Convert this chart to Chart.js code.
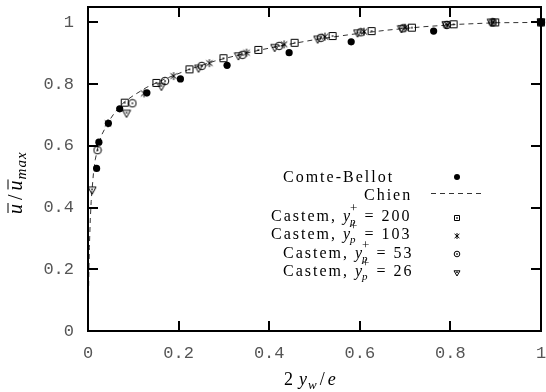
<!DOCTYPE html>
<html><head><meta charset="utf-8">
<script src="https://cdn.jsdelivr.net/npm/chart.js@4"></script>
<style>html,body{margin:0;padding:0;background:#fff}canvas{display:block}</style>
</head><body>
<canvas id="c" width="546" height="392"></canvas>
<script>
// ---- data ----
const xTicks = [0, 0.2, 0.4, 0.6, 0.8, 1];
const xTickLabels = ['0', '0.2', '0.4', '0.6', '0.8', '1'];
const yTicks = [0, 0.2, 0.4, 0.6, 0.8, 1];
const yTickLabels = ['0', '0.2', '0.4', '0.6', '0.8', '1'];

const comteX = [0.019, 0.024, 0.045, 0.070, 0.130, 0.204, 0.307, 0.444, 0.581, 0.763, 1.0];
const comteY = [0.527, 0.612, 0.673, 0.720, 0.772, 0.817, 0.861, 0.902, 0.937, 0.972, 1.0];

const chienX = [0, 0.0005, 0.001, 0.002, 0.003, 0.005, 0.007, 0.009, 0.012, 0.016, 0.021, 0.03, 0.045, 0.06, 0.08, 0.1, 0.13, 0.17, 0.22, 0.28, 0.35, 0.42, 0.5, 0.58, 0.66, 0.74, 0.82, 0.9, 1.0];
const chienY = [0, 0.06, 0.11, 0.20, 0.27, 0.36, 0.42, 0.46, 0.51, 0.555, 0.59, 0.635, 0.678, 0.71, 0.742, 0.763, 0.79, 0.817, 0.846, 0.875, 0.901, 0.923, 0.944, 0.961, 0.975, 0.986, 0.994, 0.999, 1.0];

const c200X = [0.081, 0.151, 0.224, 0.299, 0.376, 0.456, 0.540, 0.626, 0.715, 0.807, 0.899, 1.0];
const c200Y = [0.740, 0.804, 0.848, 0.884, 0.911, 0.934, 0.956, 0.972, 0.983, 0.994, 1.0, 1.0];

const c103X = [0.044, 0.124, 0.189, 0.268, 0.350, 0.433, 0.523, 0.609, 0.700, 0.794, 0.895, 1.0];
const c103Y = [0.673, 0.770, 0.826, 0.868, 0.902, 0.929, 0.954, 0.970, 0.983, 0.992, 1.0, 1.0];

const c53X = [0.021, 0.098, 0.170, 0.251, 0.341, 0.422, 0.514, 0.602, 0.696, 0.792, 0.893, 1.0];
const c53Y = [0.586, 0.738, 0.810, 0.859, 0.895, 0.924, 0.950, 0.968, 0.981, 0.992, 1.0, 1.0];

const c26X = [0.009, 0.085, 0.162, 0.244, 0.332, 0.412, 0.507, 0.595, 0.692, 0.790, 0.890, 1.0];
const c26Y = [0.456, 0.705, 0.792, 0.851, 0.891, 0.918, 0.945, 0.965, 0.979, 0.992, 1.0, 1.0];

const seriesNames = ['Comte-Bellot', 'Chien', 'Castem 200', 'Castem 103', 'Castem 53', 'Castem 26'];
const ypValues = ['200', '103', '53', '26'];

// ---- helpers ----
const zip = (xs, ys) => xs.map((x, i) => ({x: x, y: ys[i]}));

function mkSym(type, s) {
  const c = document.createElement('canvas');
  c.width = c.height = s;
  const g = c.getContext('2d');
  g.strokeStyle = '#000'; g.fillStyle = '#000'; g.lineWidth = 1;
  const m = s / 2;
  g.beginPath();
  if (type === 'square') {
    g.rect(1.5, 1.5, s - 3, s - 3); g.stroke();
    g.fillRect(m - 0.75, m - 0.75, 1.5, 1.5);
  } else if (type === 'circle') {
    g.arc(m, m, m - 1.2, 0, Math.PI * 2); g.stroke();
    g.fillRect(m - 0.75, m - 0.75, 1.5, 1.5);
  } else if (type === 'star') {
    const r = m - 1;
    g.moveTo(m, m - r); g.lineTo(m, m + r);
    g.moveTo(m - r * 0.8, m - r * 0.7); g.lineTo(m + r * 0.8, m + r * 0.7);
    g.moveTo(m - r * 0.8, m + r * 0.7); g.lineTo(m + r * 0.8, m - r * 0.7);
    g.stroke();
  } else if (type === 'tri') {
    g.moveTo(1, 1.8); g.lineTo(s - 1, 1.8); g.lineTo(m, s - 1); g.closePath(); g.stroke();
    g.fillRect(m - 0.75, m - 1.5, 1.5, 1.5);
  }
  return c;
}
const symPlot = {square: mkSym('square', 10), circle: mkSym('circle', 10), star: mkSym('star', 10), tri: mkSym('tri', 10)};
const symLeg = {square: mkSym('square', 8), circle: mkSym('circle', 8), star: mkSym('star', 8), tri: mkSym('tri', 8)};

const SERIF = '"Liberation Serif", "Times New Roman", serif';
function drawRuns(ctx, x, y, runs) {
  let cx = x;
  for (const r of runs) {
    ctx.font = r.font;
    ctx.letterSpacing = r.ls || '0px';
    ctx.fillText(r.t, cx + (r.dx || 0), y + (r.dy || 0));
    const w = ctx.measureText(r.t).width;
    if (r.over) {
      ctx.save(); ctx.lineWidth = 1; ctx.strokeStyle = '#000';
      ctx.beginPath(); ctx.moveTo(cx + 1, y - r.over); ctx.lineTo(cx + w + 1, y - r.over); ctx.stroke();
      ctx.restore();
    }
    if (!r.noAdv) cx += w + (r.gap || 0);
  }
  ctx.letterSpacing = '0px';
}

const overlay = {
  id: 'overlay',
  afterDraw(chart) {
    const ctx = chart.ctx;
    const a = chart.chartArea;
    const xs = chart.scales.x, ys = chart.scales.y;
    ctx.save();
    // frame
    ctx.strokeStyle = '#000'; ctx.lineWidth = 2;
    ctx.strokeRect(a.left, a.top, a.right - a.left, a.bottom - a.top);
    // inward ticks, mirrored
    const TL = 10;
    ctx.beginPath();
    xTicks.forEach(v => {
      const px = Math.round(xs.getPixelForValue(v));
      ctx.moveTo(px, a.bottom); ctx.lineTo(px, a.bottom - TL);
      ctx.moveTo(px, a.top); ctx.lineTo(px, a.top + TL);
    });
    yTicks.forEach(v => {
      const py = Math.round(ys.getPixelForValue(v));
      ctx.moveTo(a.left, py); ctx.lineTo(a.left + TL, py);
      ctx.moveTo(a.right, py); ctx.lineTo(a.right - TL, py);
    });
    ctx.stroke();

    // legend
    ctx.fillStyle = '#000'; ctx.textBaseline = 'alphabetic'; ctx.textAlign = 'left';
    const F = '16px ' + SERIF, FI = 'italic 16px ' + SERIF, FS = 'italic 11px ' + SERIF, FSu = '13px ' + SERIF;
    const LS = '2px';
    const symX = 457;
    drawRuns(ctx, 283, 182, [{t: seriesNames[0], font: F, ls: LS}]);
    ctx.beginPath(); ctx.arc(symX, 177, 3, 0, Math.PI * 2); ctx.fill();
    drawRuns(ctx, 364, 200, [{t: seriesNames[1], font: F, ls: LS}]);
    ctx.save(); ctx.strokeStyle = '#333'; ctx.lineWidth = 1; ctx.setLineDash([5, 4]);
    ctx.beginPath(); ctx.moveTo(431, 193.5); ctx.lineTo(484, 193.5); ctx.stroke(); ctx.restore();
    const rows = [
      {x: 271, y: 221, sym: 'square', sy: 217.5},
      {x: 271, y: 239, sym: 'star', sy: 235.5},
      {x: 283, y: 257.5, sym: 'circle', sy: 254},
      {x: 283, y: 276, sym: 'tri', sy: 272.5}
    ];
    rows.forEach((r, i) => {
      drawRuns(ctx, r.x, r.y, [
        {t: 'Castem,', font: F, ls: LS, gap: 6},
        {t: 'y', font: FI},
        {t: 'p', font: FS, dy: 4, noAdv: true},
        {t: '+', font: FSu, dy: -9, gap: 7},
        {t: '= ' + ypValues[i], font: F, ls: LS}
      ]);
      const im = symLeg[r.sym];
      ctx.drawImage(im, Math.round(symX - im.width / 2), Math.round(r.sy - im.height / 2));
    });

    // x title
    const FT = '18px ' + SERIF, FTI = 'italic 18px ' + SERIF, FTS = 'italic 13px ' + SERIF;
    drawRuns(ctx, 284, 385, [
      {t: '2', font: FT, gap: 6},
      {t: 'y', font: FTI, gap: 1},
      {t: 'w', font: FTS, dy: 4, gap: 3},
      {t: '/', font: FT, gap: 3},
      {t: 'e', font: FTI}
    ]);
    // y title (rotated)
    ctx.translate(22, 214);
    ctx.rotate(-Math.PI / 2);
    drawRuns(ctx, 0, 0, [
      {t: 'u', font: 'italic 20px ' + SERIF, over: 14, gap: 4},
      {t: '/', font: '20px ' + SERIF, gap: 4},
      {t: 'u', font: 'italic 20px ' + SERIF, over: 14, gap: 1},
      {t: 'max', font: 'italic 15px ' + SERIF, dy: 4, ls: '1px'}
    ]);
    ctx.restore();
  }
};

Chart.defaults.font.family = '"Liberation Mono", monospace';

const zeroPad = s => { s.paddingTop = 0; s.paddingBottom = 0; s.paddingLeft = 0; s.paddingRight = 0; };

new Chart(document.getElementById('c'), {
  type: 'scatter',
  data: {
    datasets: [
      {label: seriesNames[0], data: zip(comteX, comteY), pointStyle: 'circle', pointRadius: 3.6,
       backgroundColor: '#000', borderColor: '#000', borderWidth: 0, clip: false},
      {label: seriesNames[2], data: zip(c200X, c200Y), pointStyle: symPlot.square, clip: false},
      {label: seriesNames[3], data: zip(c103X, c103Y), pointStyle: symPlot.star, clip: false},
      {label: seriesNames[4], data: zip(c53X, c53Y), pointStyle: symPlot.circle, clip: false},
      {label: seriesNames[5], data: zip(c26X, c26Y), pointStyle: symPlot.tri, clip: false},
      {label: seriesNames[1], type: 'line', data: zip(chienX, chienY), showLine: true, pointRadius: 0,
       borderColor: '#333', borderWidth: 1, borderDash: [5, 4], fill: false, tension: 0, clip: false}
    ]
  },
  options: {
    responsive: false, animation: false, devicePixelRatio: 1,
    layout: {padding: {top: 7, right: 2, left: 0, bottom: 0}},
    plugins: {legend: {display: false}, tooltip: {enabled: false}},
    scales: {
      x: {
        type: 'linear', min: 0, max: 1,
        grid: {display: false, drawTicks: false}, border: {display: false},
        afterBuildTicks: s => { s.ticks = xTicks.map(v => ({value: v})); },
        afterFit: s => { s.height = 61; zeroPad(s); },
        ticks: {color: '#555', font: {size: 17}, padding: 12, maxRotation: 0,
                callback: (v, i) => xTickLabels[i]}
      },
      y: {
        type: 'linear', min: 0, max: 1.05,
        grid: {display: false, drawTicks: false}, border: {display: false},
        afterBuildTicks: s => { s.ticks = yTicks.map(v => ({value: v})); },
        afterFit: s => { s.width = 88; zeroPad(s); },
        ticks: {color: '#555', font: {size: 17}, padding: 14,
                callback: (v, i) => yTickLabels[i]}
      }
    }
  },
  plugins: [overlay]
});
</script>
</body></html>
